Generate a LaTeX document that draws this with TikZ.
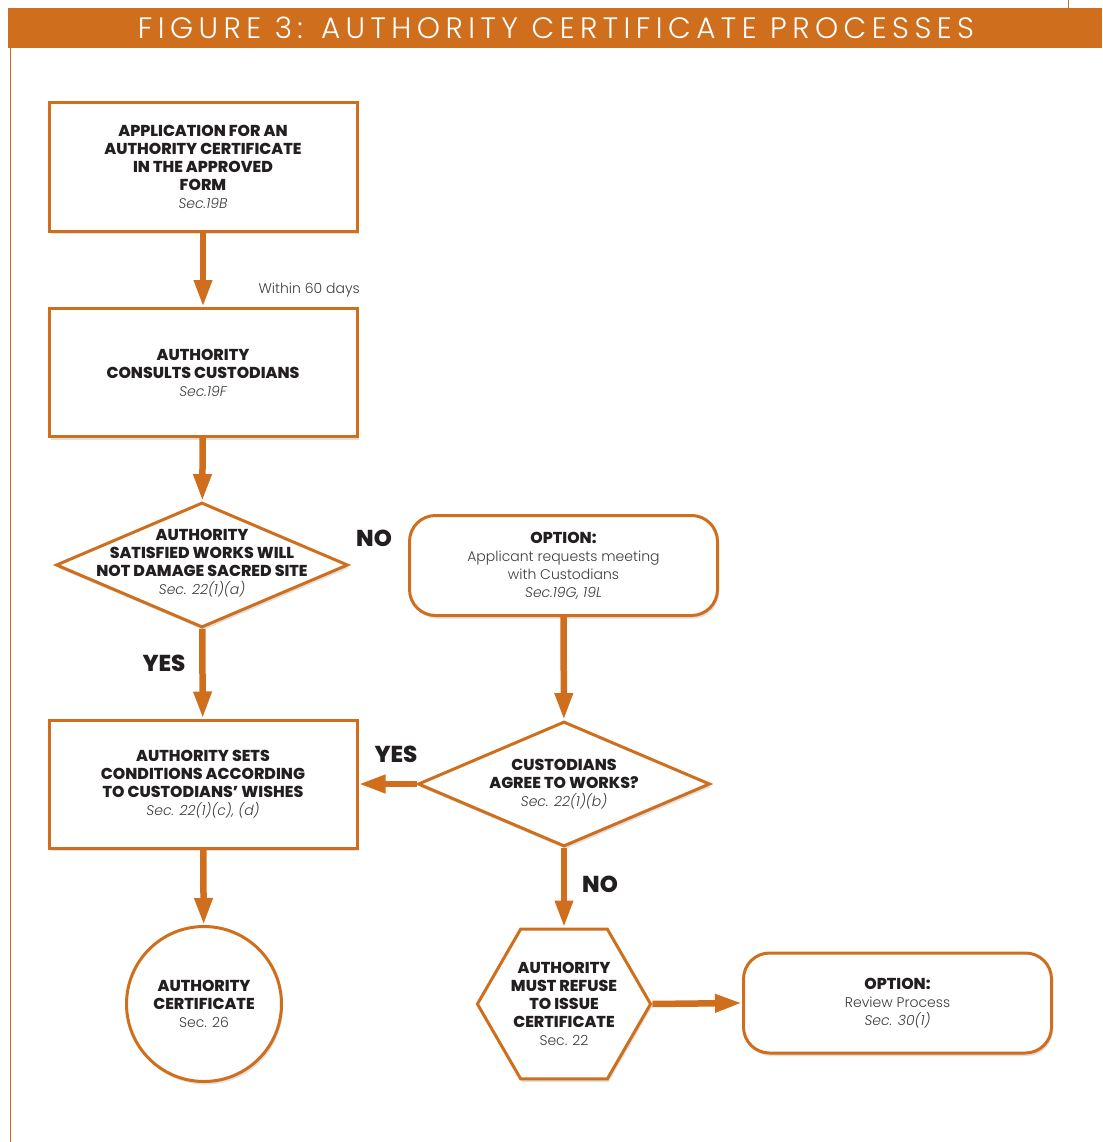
\documentclass[tikz,border=0pt]{standalone}
\usepackage{fontspec}
\IfFontExistsTF{Poppins ExtraBold}{\setmainfont{Poppins}[BoldFont={Poppins ExtraBold}]}{\setmainfont{Poppins}}
\IfFontExistsTF{Poppins Light}{\newfontfamily\lightfont{Poppins Light}}{\newfontfamily\lightfont{Poppins}}
\IfFontExistsTF{Poppins Light}{\newfontfamily\headfont[LetterSpace=18.5]{Poppins Light}}{\newfontfamily\headfont[LetterSpace=18.5]{Poppins}}
\usetikzlibrary{positioning,shapes.geometric,arrows.meta,shadows}

\definecolor{figorange}{RGB}{207,110,28}
\definecolor{figtext}{RGB}{35,31,32}
\definecolor{secgray}{RGB}{60,60,60}

\newcommand{\sect}[1]{{\lightfont\mdseries\color{secgray}\fontsize{14}{18}\selectfont #1}}

\tikzset{
    boxshadow/.style={drop shadow={shadow xshift=1.5pt, shadow yshift=-3pt, opacity=0.12, fill=black}},
    procbox/.style={draw=figorange, line width=3pt, fill=white, boxshadow,
        minimum width=308pt, minimum height=128pt, align=center, inner sep=0pt},
    optbox/.style={procbox, rounded corners=26pt, minimum height=100pt},
    decision/.style={diamond, draw=figorange, line width=3pt, fill=white, boxshadow,
        inner sep=0pt, minimum width=292pt, minimum height=125pt},
    endcircle/.style={circle, draw=figorange, line width=3pt, fill=white, boxshadow,
        inner sep=0pt, minimum size=155pt, align=center},
    refusehex/.style={regular polygon, regular polygon sides=6, draw=figorange, line width=3pt,
        fill=white, boxshadow, inner sep=0pt, minimum size=173pt, align=center},
    btext/.style={align=center, text=figtext, font=\fontsize{15.8}{18}\selectfont\bfseries},
    answer/.style={text=figtext, font=\fontsize{23}{24}\selectfont\bfseries, inner sep=0pt},
    flow/.style={draw=figorange, line width=6.5pt, -{Triangle[length=27pt,width=17pt]}}
}

\begin{document}
\begin{tikzpicture}[x=1pt, y=-1pt, every node/.style={btext}]
    \useasboundingbox (0,0) rectangle (1102,1142);

    % Title band
    \fill[figorange] (8,8) rectangle (1102,48);
    \draw[figorange, line width=1pt] (10,48) -- (10,1142);
    \draw[figorange, line width=0.8pt] (1068,0) -- (1068,8);
    \node[text=white, font=\headfont\mdseries\fontsize{29.5}{30}\selectfont] (title) at (556,28)
        {FIGURE 3: AUTHORITY CERTIFICATE PROCESSES};

    % Left column
    \node[procbox] (apply) at (203,167)
        {APPLICATION FOR AN\\AUTHORITY CERTIFICATE\\IN THE APPROVED\\FORM\\\sect{\itshape Sec.19B}};
    \node[procbox] (consult) at (203,372.5)
        {AUTHORITY\\CONSULTS CUSTODIANS\\\sect{\itshape Sec.19F}};
    \node[decision] (satisfied) at (202,565) {};
    \node (satisfiedtxt) at (202,563)
        {AUTHORITY\\SATISFIED WORKS WILL\\NOT DAMAGE SACRED SITE\\\sect{\itshape Sec. 22(1)(a)}};
    \node[procbox] (conditions) at (203,784)
        {AUTHORITY SETS\\CONDITIONS ACCORDING\\TO CUSTODIANS' WISHES\\\sect{\itshape Sec. 22(1)(c), (d)}};
    \node[endcircle] (certificate) at (204,1004)
        {AUTHORITY\\CERTIFICATE\\\sect{Sec. 26}};

    % Right column
    \node[optbox] (meeting) at (563.5,565.5)
        {OPTION:\\\sect{Applicant requests meeting}\\\sect{with Custodians}\\\sect{\itshape Sec.19G, 19L}};
    \node[decision] (agree) at (564,784) {};
    \node (agreetxt) at (564,784)
        {CUSTODIANS\\AGREE TO WORKS?\\\sect{\itshape Sec. 22(1)(b)}};
    \node[refusehex] (refuse) at (564,1004)
        {AUTHORITY\\MUST REFUSE\\TO ISSUE\\CERTIFICATE\\\sect{Sec. 22}};
    \node[optbox] (review) at (897.5,1003)
        {OPTION:\\\sect{Review Process}\\\sect{\itshape Sec. 30(1)}};

    % Connectors
    \draw[flow] (apply) -- (consult);
    \draw[flow] (consult) -- (satisfied);
    \draw[flow] (satisfied) -- (conditions);
    \draw[flow] (conditions) -- (certificate);
    \draw[flow] (meeting) -- (agree);
    \draw[flow] (agree.west) -- (conditions.east);
    \draw[flow] (agree) -- (refuse);
    \draw[flow] (refuse.east) -- (review.west);

    % Labels
    \node[anchor=south east, inner sep=0pt, font=\lightfont\fontsize{14}{16}\selectfont, text=secgray]
        (within) at (360,297) {Within 60 days};
    \node[answer] (no1) at (374,538) {NO};
    \node[answer] (yes1) at (164,663) {YES};
    \node[answer] (yes2) at (396,754) {YES};
    \node[answer] (no2) at (600,884) {NO};
\end{tikzpicture}
\end{document}
